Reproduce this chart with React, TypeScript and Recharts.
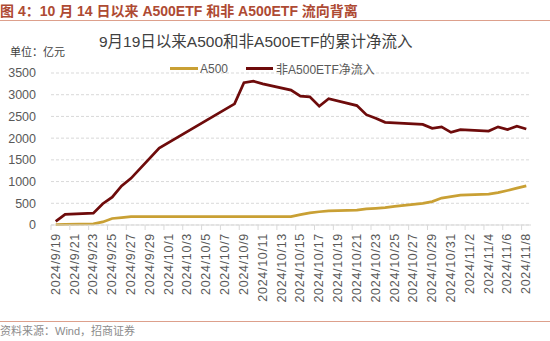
import React from 'react';
import { LineChart, Line, XAxis, YAxis, CartesianGrid, Legend } from 'recharts';

const tradeDates = [
  '2024/9/19', '2024/9/20', '2024/9/23', '2024/9/24', '2024/9/25', '2024/9/26', '2024/9/27', '2024/9/30',
  '2024/10/8', '2024/10/9', '2024/10/10', '2024/10/11', '2024/10/14', '2024/10/15', '2024/10/16', '2024/10/17',
  '2024/10/18', '2024/10/21', '2024/10/22', '2024/10/23', '2024/10/24', '2024/10/25', '2024/10/28', '2024/10/29',
  '2024/10/30', '2024/10/31', '2024/11/1', '2024/11/4', '2024/11/5', '2024/11/6', '2024/11/7', '2024/11/8',
];

const a500Flow = [
  10, 15, 25, 70, 150, 170, 190, 195,
  195, 195, 195, 195, 195, 240, 280, 305,
  325, 343, 370, 385, 400, 430, 500, 540,
  620, 655, 690, 711, 745, 795, 850, 900,
];

const nonA500Flow = [
  85, 245, 272, 490, 642, 900, 1075, 1772,
  2790, 3278, 3313, 3250, 3105, 2965, 2950, 2734,
  2908, 2750, 2540, 2456, 2364, 2350, 2316, 2226,
  2260, 2134, 2197, 2163, 2260, 2197, 2274, 2211,
];

const axisDateLabels = [
  '2024/9/19', '2024/9/21', '2024/9/23', '2024/9/25', '2024/9/27', '2024/9/29', '2024/10/1', '2024/10/3',
  '2024/10/5', '2024/10/7', '2024/10/9', '2024/10/11', '2024/10/13', '2024/10/15', '2024/10/17', '2024/10/19',
  '2024/10/21', '2024/10/23', '2024/10/25', '2024/10/27', '2024/10/29', '2024/10/31', '2024/11/2', '2024/11/4',
  '2024/11/6', '2024/11/8',
];

const yTicks = [0, 500, 1000, 1500, 2000, 2500, 3000, 3500];
const seriesNames = ['A500', '非A500ETF净流入'];

const headerText = '图 4：10 月 14 日以来 A500ETF 和非 A500ETF 流向背离';
const chartTitle = '9月19日以来A500和非A500ETF的累计净流入';
const unitText = '单位：亿元';
const sourceText = '资料来源：Wind，招商证券';

const GOLD = '#C9A034';
const DARK = '#6E0B0B';
const FONT = '"Liberation Sans", Arial, "Noto Sans CJK SC", sans-serif';

function dayNum(s: string): number {
  const [y, m, d] = s.split('/').map(Number);
  return Math.round(Date.UTC(y, m - 1, d) / 86400000);
}
const START = dayNum(axisDateLabels[0]);
const END = dayNum(axisDateLabels[axisDateLabels.length - 1]);

const data = tradeDates.map((d, i) => ({
  day: dayNum(d) - START,
  a500: a500Flow[i],
  nonA500: nonA500Flow[i],
}));

const labelPos = axisDateLabels.map((s) => dayNum(s) - START);
const tickMarkPos = labelPos.map((p) => p - 0.5);
const xTicks = [...tickMarkPos, ...labelPos].sort((a, b) => a - b);

const XTick = (props: any) => {
  const { x, y, payload } = props;
  const v = payload.value;
  const idx = labelPos.indexOf(v);
  if (idx < 0) {
    return <line x1={x} y1={y} x2={x} y2={y + 5} stroke="#D9D9D9" strokeWidth={1} />;
  }
  const ty = y + 8;
  return (
    <text
      x={x}
      y={ty}
      transform={`rotate(-90 ${x} ${ty})`}
      textAnchor="end"
      dominantBaseline="central"
      fontSize={12.5}
      letterSpacing={0.7}
      fill="#595959"
      fontFamily={FONT}
    >
      {axisDateLabels[idx]}
    </text>
  );
};

const LegendContent = () => (
  <div style={{ display: 'flex', alignItems: 'center', fontSize: 12, color: '#595959', fontFamily: FONT, whiteSpace: 'nowrap' }}>
    <span style={{ display: 'inline-block', width: 28, height: 3, background: GOLD, marginRight: 2 }} />
    <span style={{ marginRight: 18 }}>{seriesNames[0]}</span>
    <span style={{ display: 'inline-block', width: 27, height: 3, background: DARK, marginRight: 3 }} />
    <span>{seriesNames[1]}</span>
  </div>
);

export default function App() {
  return (
    <div style={{ position: 'absolute', left: 0, top: 0, width: 550, height: 341, background: '#fff', fontFamily: FONT }}>
      <div style={{ position: 'absolute', left: 0, top: 2, fontSize: 14, fontWeight: 'bold', color: '#AE4A33', whiteSpace: 'nowrap', lineHeight: '18px' }}>
        {headerText}
      </div>
      <div style={{ position: 'absolute', left: 0, top: 20, width: 550, height: 1, background: '#DDA08C' }} />
      <div style={{ position: 'absolute', left: 99, top: 33, fontSize: 15.5, color: '#404040', whiteSpace: 'nowrap', lineHeight: '18px' }}>
        {chartTitle}
      </div>
      <div style={{ position: 'absolute', left: 10, top: 45, fontSize: 11, color: '#404040', whiteSpace: 'nowrap', lineHeight: '14px' }}>
        {unitText}
      </div>
      <LineChart width={550} height={341} data={data} margin={{ top: 73, right: 19, left: 0, bottom: 30 }}>
        <CartesianGrid vertical={false} stroke="#D9D9D9" strokeDasharray="3 2" />
        <XAxis
          dataKey="day"
          type="number"
          domain={[-0.5, END - START + 0.5]}
          ticks={xTicks}
          interval={0}
          tick={<XTick />}
          tickLine={false}
          tickSize={0}
          tickMargin={0}
          axisLine={{ stroke: '#D9D9D9' }}
          height={70}
          allowDataOverflow
        />
        <YAxis
          domain={[0, 3500]}
          ticks={yTicks}
          axisLine={false}
          tickLine={false}
          tickSize={0}
          tickMargin={15}
          width={51}
          tick={{ fontSize: 12.5, fill: '#595959', fontFamily: FONT }}
          interval={0}
        />
        <Legend content={<LegendContent />} wrapperStyle={{ position: 'absolute', top: 60, left: 170, width: 'auto', height: 16 }} />
        <Line type="linear" dataKey="a500" name={seriesNames[0]} stroke={GOLD} strokeWidth={2.75} dot={false} isAnimationActive={false} />
        <Line type="linear" dataKey="nonA500" name={seriesNames[1]} stroke={DARK} strokeWidth={2.75} dot={false} isAnimationActive={false} />
      </LineChart>
      <div style={{ position: 'absolute', left: 0, top: 321, width: 550, height: 1, background: '#DDA08C' }} />
      <div style={{ position: 'absolute', left: 0, top: 324, fontSize: 11, color: '#8C8C8C', whiteSpace: 'nowrap', lineHeight: '15px' }}>
        {sourceText}
      </div>
    </div>
  );
}
